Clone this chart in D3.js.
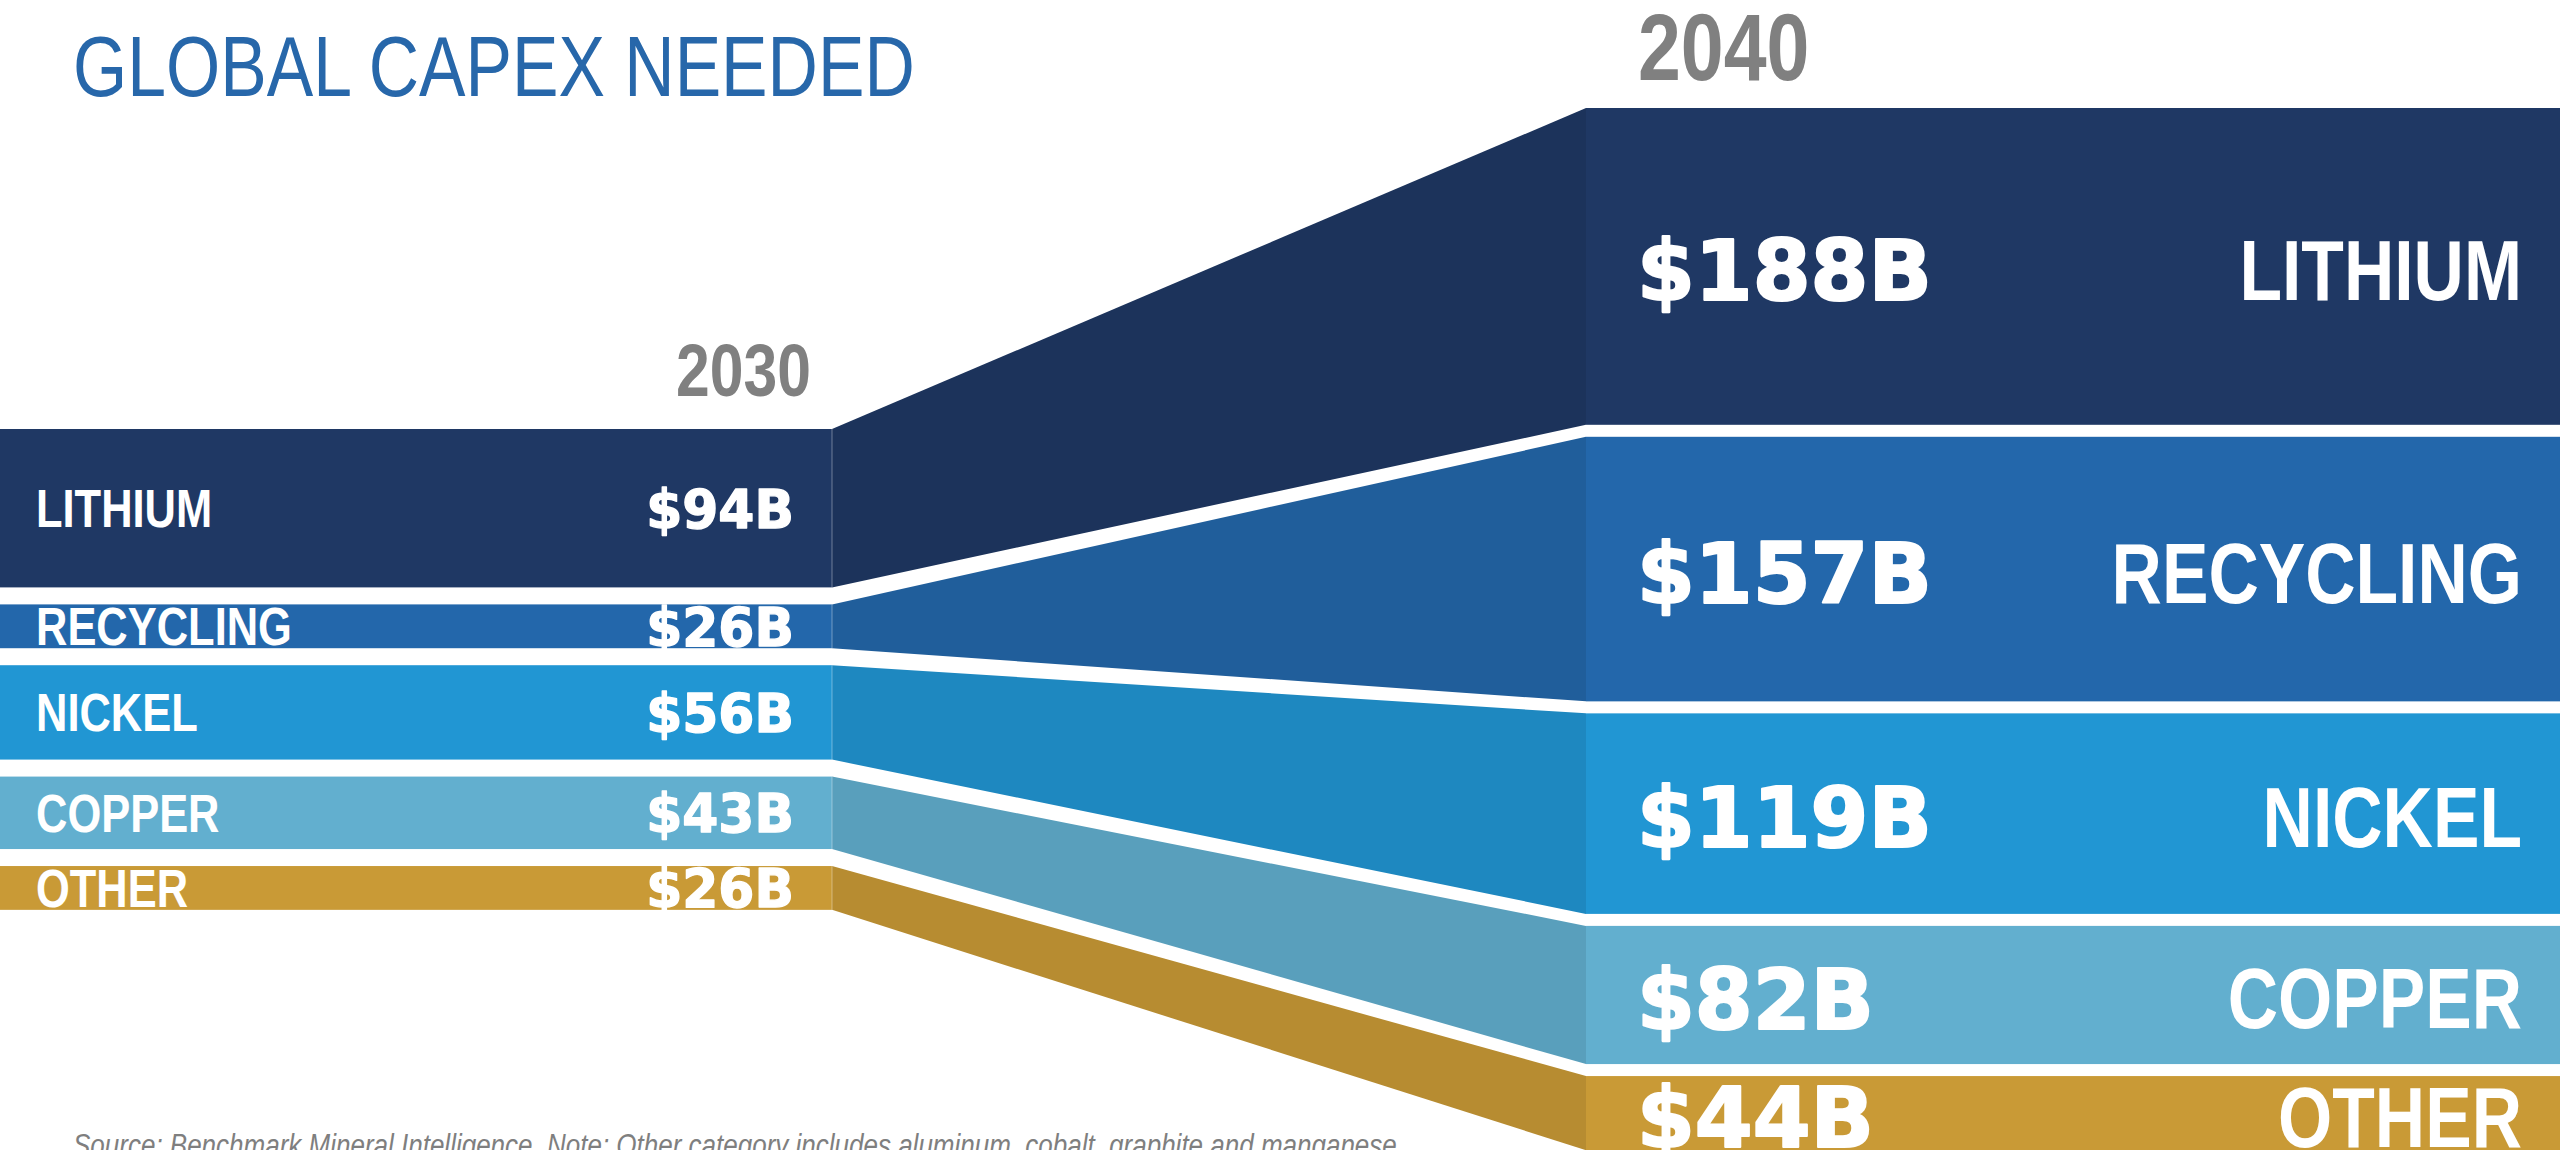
<!DOCTYPE html>
<html>
<head>
<meta charset="utf-8">
<script src="https://cdn.jsdelivr.net/npm/d3@7"></script>
<style>
  html, body { margin: 0; padding: 0; background: #ffffff; overflow: hidden; }
  svg { display: block; }
</style>
</head>
<body>
<svg id="chart" width="2560" height="1150"></svg>
<script>
// ---- data -------------------------------------------------------------
const categories = ["LITHIUM", "RECYCLING", "NICKEL", "COPPER", "OTHER"];
const capex2030  = [94, 26, 56, 43, 26];      // $B
const capex2040  = [188, 157, 119, 82, 44];   // $B
const years      = ["2030", "2040"];
const titleText  = "GLOBAL CAPEX NEEDED";
const noteText   = "Source: Benchmark Mineral Intelligence. Note: Other category includes aluminum, cobalt, graphite and manganese.";

// ---- style ------------------------------------------------------------
const palette = ["#1F3864", "#2367AB", "#2196D3", "#62AFCF", "#C99A36"];
const W = 2560, H = 1150;

// Narrow sans: use the real narrow face when present, otherwise squeeze the regular one.
function fontAvailable(name) {
  const ctx = document.createElement("canvas").getContext("2d");
  const s = "LITHIUM RECYCLING 0123456789 abcdefg";
  return ["monospace", "serif"].some(fb => {
    ctx.font = `40px ${fb}`; const a = ctx.measureText(s).width;
    ctx.font = `40px "${name}", ${fb}`; const b = ctx.measureText(s).width;
    return a !== b;
  });
}
const hasNarrow = fontAvailable("Liberation Sans Narrow");
const NARROW = hasNarrow ? "'Liberation Sans Narrow', 'Liberation Sans', sans-serif" : "'Liberation Sans', Arial, sans-serif";
const NARROW_SX = hasNarrow ? 1 : 0.82;
const HEAVY = "'DejaVu Sans', 'Liberation Sans', sans-serif";

const svg = d3.select("#chart");

// ---- scales & layout ---------------------------------------------------
const h = d3.scaleLinear().domain([0, d3.max(capex2040)]).range([0, 316.8]);

const xLeft  = { x0: 0,    x1: 832 };
const xRight = { x0: 1586, x1: W };

function stack(values, top, gap) {
  let cur = top;
  return values.map(v => {
    const y0 = cur, y1 = cur + h(v);
    cur = y1 + gap;
    return { y0, y1, mid: (y0 + y1) / 2 };
  });
}
const left  = stack(capex2030, 429, 17);
const right = stack(capex2040, 108, 12);

const rows = categories.map((c, i) => ({
  name: c, v0: capex2030[i], v1: capex2040[i],
  L: left[i], R: right[i], color: palette[i]
}));

// ---- connecting bands ----------------------------------------------------
const bandPath = d => {
  const p = d3.path();
  p.moveTo(xLeft.x1, d.L.y0);
  p.lineTo(xRight.x0, d.R.y0);
  p.lineTo(xRight.x0, d.R.y1);
  p.lineTo(xLeft.x1, d.L.y1);
  p.closePath();
  return p.toString();
};

svg.append("g").attr("class", "bands")
  .selectAll("path").data(rows).join("path")
  .attr("d", bandPath)
  .attr("fill", d => d3.color(d.color).darker(0.27));

// ---- 2030 bars -------------------------------------------------------------
svg.append("g").attr("class", "bars-2030")
  .selectAll("rect").data(rows).join("rect")
  .attr("x", xLeft.x0).attr("width", xLeft.x1 - xLeft.x0)
  .attr("y", d => d.L.y0).attr("height", d => d.L.y1 - d.L.y0)
  .attr("fill", d => d.color);

svg.append("g").attr("class", "edges")
  .selectAll("line").data(rows).join("line")
  .attr("x1", xLeft.x1).attr("x2", xLeft.x1)
  .attr("y1", d => d.L.y0).attr("y2", d => d.L.y1)
  .attr("stroke", "#ffffff").attr("stroke-opacity", 0.3).attr("stroke-width", 1.2);

// ---- 2040 bars -------------------------------------------------------------
svg.append("g").attr("class", "bars-2040")
  .selectAll("rect").data(rows).join("rect")
  .attr("x", xRight.x0).attr("width", xRight.x1 - xRight.x0)
  .attr("y", d => d.R.y0).attr("height", d => d.R.y1 - d.R.y0)
  .attr("fill", d => d.color);

// ---- text helpers ------------------------------------------------------------
function label(g, x, y, text, o) {
  const fill = o.fill || "#ffffff";
  const t = g.append("text")
    .attr("transform", `translate(${x},${y}) scale(${o.sx || 1},1)`)
    .attr("text-anchor", o.anchor || "start")
    .style("font-family", o.family)
    .style("font-size", o.size + "px")
    .style("font-weight", o.weight || "normal")
    .style("font-style", o.style || "normal")
    .attr("fill", fill)
    .text(text);
  if (o.stroke) {
    t.attr("stroke", fill).attr("stroke-width", o.stroke).attr("stroke-linejoin", "round");
  }
  return t;
}
const fmt = v => `$${v}B`;

const lab = svg.append("g").attr("class", "labels");

// left: category names + 2030 values
const catL = { family: NARROW, size: 53, weight: "bold", sx: NARROW_SX };
const valL = { family: HEAVY, size: 53.5, weight: "bold", anchor: "end", sx: 0.97, stroke: 1.4 };
rows.forEach(d => {
  label(lab, 36, d.L.mid + 0.716 * catL.size / 2, d.name, catL);
  label(lab, 794, d.L.mid + 0.729 * valL.size / 2, fmt(d.v0), valL);
});

// right: 2040 values + category names
const valR = { family: HEAVY, size: 84, weight: "bold", sx: 0.99, stroke: 2.2 };
const catR = { family: NARROW, size: 85, weight: "bold", anchor: "end", sx: NARROW_SX };
rows.forEach(d => {
  label(lab, 1637, d.R.mid + 0.729 * valR.size / 2 + 3, fmt(d.v1), valR);
  label(lab, 2522, d.R.mid + 0.716 * catR.size / 2 + 3, d.name, catR);
});

// year headings
label(lab, 811, 396, years[0], { family: NARROW, size: 74, weight: "bold", anchor: "end", fill: "#808080", sx: NARROW_SX });
label(lab, 1638, 80, years[1], { family: NARROW, size: 94, weight: "bold", fill: "#808080", sx: NARROW_SX });

// title
label(lab, 73, 96, titleText, { family: NARROW, size: 85, fill: "#2767AA", sx: NARROW_SX });

// source note
lab.append("text")
  .attr("x", 73).attr("y", 1156)
  .attr("textLength", 1331).attr("lengthAdjust", "spacingAndGlyphs")
  .style("font-family", NARROW)
  .style("font-size", "31px")
  .style("font-style", "italic")
  .attr("fill", "#7F7F7F")
  .text(noteText);
</script>
</body>
</html>
